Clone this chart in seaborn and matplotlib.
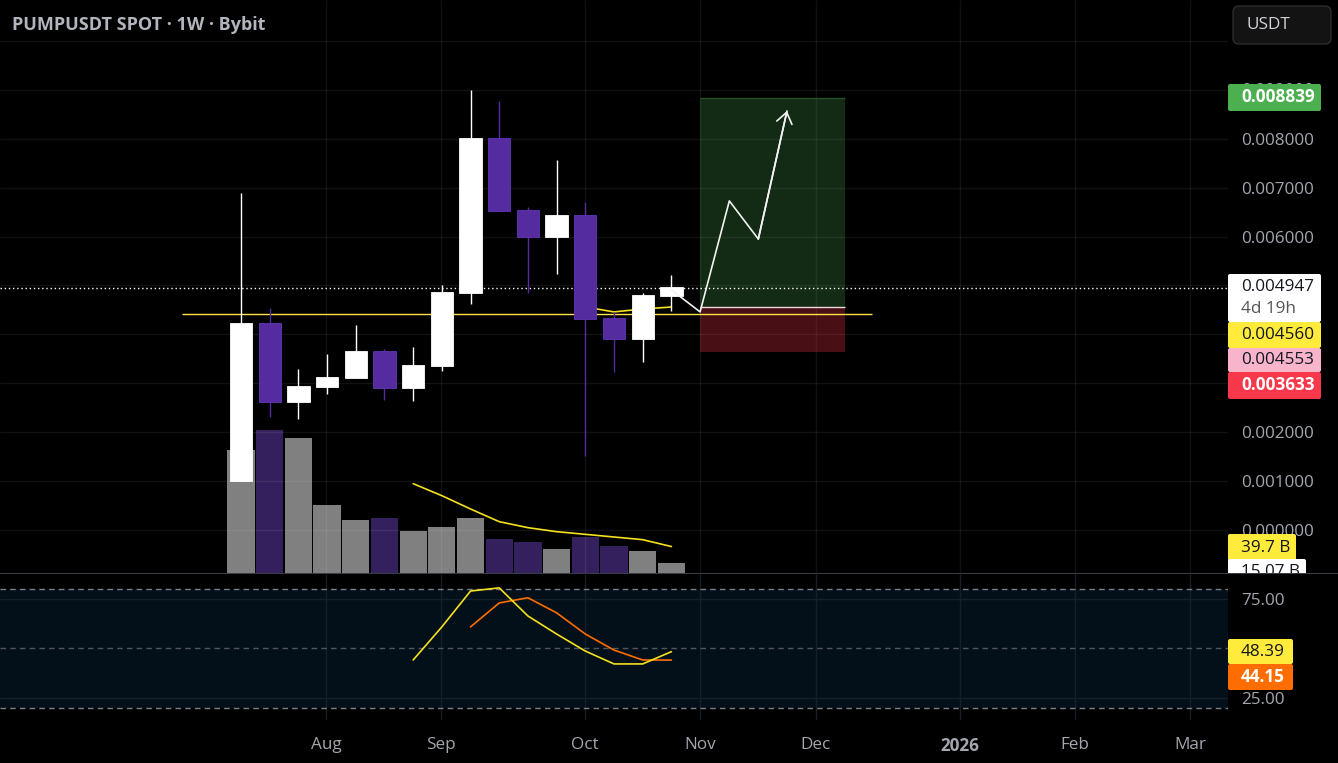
import matplotlib
matplotlib.use("Agg")
import matplotlib.pyplot as plt
from matplotlib.patches import FancyBboxPatch, Rectangle
from matplotlib.transforms import Affine2D
import pandas as pd
import seaborn as sns

# weekly candles
weeks = list(range(16))
opens = [.00100, .00423, .00262, .00292, .00311, .00366, .00290, .00335, .00485, .00802, .00654, .00599, .00644, .00434, .00391, .00479]
closes = [.00423, .00262, .00294, .00313, .00366, .00290, .00337, .00487, .00802, .00652, .00599, .00644, .00431, .00391, .00481, .00497]
highs = [.00689, .00454, .00329, .00360, .00419, .00370, .00374, .00501, .00900, .00877, .00661, .00757, .00671, .00446, .00485, .00521]
lows = [.00100, .00231, .00227, .00278, .00311, .00266, .00264, .00325, .00462, .00652, .00485, .00523, .00151, .00323, .00344, .00448]
volumes = [184, 214, 202, 102, 80, 83, 63, 69, 83, 51, 46, 36, 54, 40, 33, 15.07]

vol_ma_weeks = [6, 7, 8, 9, 10, 11, 12, 13, 14, 15]
vol_ma = [134, 116, 96, 77, 68, 62, 58, 54, 50, 39.7]

price_ma_weeks = [12, 13, 14, 15]
price_ma = [.00456, .00446, .00452, .00456]

rsi_weeks = [6, 7, 8, 9, 10, 11, 12, 13, 14, 15]
rsi = [44.2, 60.9, 79, 80.6, 66.4, 57.3, 48.7, 42.2, 42.2, 48.39]
rsi_ma_weeks = [8, 9, 10, 11, 12, 13, 14, 15]
rsi_ma = [60.9, 73, 75.6, 68, 57.3, 49.2, 44.2, 44.15]

# drawing on the chart
level_price = .004407
level_weeks = [-2.05, 22.0]
last_price = .004947
entry, target, stop = .004553, .008839, .003633
box_weeks = [16, 21.05]
path_weeks = [15, 16, 17.02, 18.03, 19.03]
path_prices = [.00491, .00446, .00673, .00595, .00857]

price_ticks = [.000, .001, .002, .003, .004, .005, .006, .007, .008, .009, .010]
price_labels = ["0.000000", "0.001000", "0.002000", "", "", "", "0.006000", "0.007000", "0.008000", "", ""]
time_ticks = [2.96, 6.97, 12.0, 16.0, 20.04, 25.06, 29.07, 33.08]
time_labels = ["Aug", "Sep", "Oct", "Nov", "Dec", "2026", "Feb", "Mar"]

sns.set_theme(style="dark", rc={"axes.facecolor": "black", "figure.facecolor": "black"})
plt.rcParams["font.family"] = ["Open Sans", "DejaVu Sans"]

W, H = 1338, 763
AXIS_TEXT = "#a3a6af"
PURPLE = "#552ba0"
FS = 12.3

fig = plt.figure(figsize=(W / 100, H / 100), dpi=100, facecolor="black")
px = Affine2D().scale(1 / W, -1 / H).translate(0, 1) + fig.transFigure

xlim = (-8.40, 34.40)
ax_vol = fig.add_axes([0, 1 - 573 / H, 1228 / W, 573 / H])
ax = fig.add_axes([0, 1 - 573 / H, 1228 / W, 573 / H], sharex=ax_vol)
ax_rsi = fig.add_axes([0, 1 - 720 / H, 1228 / W, 146 / H], sharex=ax_vol)
ax.patch.set_visible(False)

# volume, same pane as price
df = pd.DataFrame({"week": weeks, "volume": volumes, "open": opens, "close": closes, "high": highs, "low": lows})
df["dir"] = ["up" if c >= o else "down" for o, c in zip(opens, closes)]
sns.barplot(data=df, x="week", y="volume", hue="dir", palette={"up": "#808080", "down": "#34205c"},
            native_scale=True, dodge=False, width=0.95, saturation=1, legend=False, linewidth=0, ax=ax_vol)
sns.lineplot(x=vol_ma_weeks, y=vol_ma, color="#f5e11d", lw=1.2, ax=ax_vol)
ax_vol.set_ylim(0, 859.5)
ax_vol.set(xlabel="", ylabel="", yticks=[])

# price pane
ax.set_ylim(-.000879, .010838)
ax.set_yticks(price_ticks)
ax.set_yticklabels(price_labels)
ax.hlines(price_ticks, *xlim, color="white", alpha=0.07, lw=1, zorder=0)
ax.vlines(time_ticks, -.000879, .010838, color="white", alpha=0.07, lw=1, zorder=0)

ax.add_patch(Rectangle((box_weeks[0], entry), box_weeks[1] - box_weeks[0], target - entry,
                       color="#4caf50", alpha=0.25, lw=0, zorder=1))
ax.add_patch(Rectangle((box_weeks[0], stop), box_weeks[1] - box_weeks[0], entry - stop,
                       color="#f23645", alpha=0.3, lw=0, zorder=1))
ax.hlines(target, *box_weeks, color="#24502a", lw=1, zorder=1)
ax.hlines(last_price, *xlim, color="white", lw=1, ls=(0, (1, 2)), zorder=1.1)
ax.hlines(entry, *box_weeks, color="#f0d8dc", lw=1, zorder=1.2)
ax.hlines(level_price, *level_weeks, color="#ffe34d", lw=1, zorder=1.3)
sns.lineplot(x=price_ma_weeks, y=price_ma, color="#f5e11d", lw=1.2, ax=ax, zorder=1.4)

for d, c in [("up", "white"), ("down", PURPLE)]:
    sub = df[df["dir"] == d]
    ax.vlines(sub["week"], sub["low"], sub["high"], color=c, lw=1, zorder=2)
    ax.bar(sub["week"], (sub["close"] - sub["open"]).abs(), bottom=sub[["open", "close"]].min(axis=1),
           width=0.78, color=c, edgecolor="#6236b8" if d == "down" else "white", lw=0.6, zorder=3)

ax.plot(path_weeks, path_prices, color="#f2f2f2", lw=1.2, zorder=6)
ax.annotate("", xy=(path_weeks[-1], path_prices[-1]), xytext=(path_weeks[-2], path_prices[-2]),
            arrowprops=dict(arrowstyle="->,head_length=0.55,head_width=0.4", color="#f2f2f2", lw=1.2,
                            shrinkA=0, shrinkB=0, mutation_scale=14), zorder=6)

# rsi pane
ax_rsi.set_ylim(13.9, 87.6)
ax_rsi.axhspan(20, 80, color="#03101a", lw=0, zorder=0)
ax_rsi.hlines([75, 25], *xlim, color="#141f27", lw=1, zorder=1)
ax_rsi.vlines(time_ticks, 13.9, 87.6, color="#141f27", lw=1, zorder=1)
ax_rsi.hlines([80, 20], *xlim, color="#7a8086", lw=1, ls=(0, (4, 3)), zorder=1)
ax_rsi.hlines(50, *xlim, color="#50565c", lw=1, ls=(0, (4, 3)), zorder=1)
sns.lineplot(x=rsi_weeks, y=rsi, color="#f5e11d", lw=1.2, ax=ax_rsi, zorder=3)
sns.lineplot(x=rsi_ma_weeks, y=rsi_ma, color="#ff6d00", lw=1.2, ax=ax_rsi, zorder=2)
ax_rsi.set_yticks([25, 75])
ax_rsi.set_yticklabels(["25.00", "75.00"])

ax_vol.set_xlim(*xlim)
ax_rsi.set_xticks(time_ticks)
ax_rsi.set_xticklabels(time_labels)
ax.tick_params(axis="x", length=0, labelbottom=False)
ax_vol.tick_params(axis="x", length=0, labelbottom=False)
ax_rsi.tick_params(axis="x", length=0, colors=AXIS_TEXT, labelsize=FS, pad=12)
ax_rsi.get_xticklabels()[5].set_fontweight("bold")
for a in (ax, ax_rsi):
    a.yaxis.tick_right()
    a.tick_params(axis="y", length=0, colors=AXIS_TEXT, labelsize=FS, pad=9.4)
for a in (ax, ax_vol, ax_rsi):
    a.set(xlabel="", ylabel="")
    for s in a.spines.values():
        s.set_visible(False)
    a.grid(False)


def tag(x0, x1, y0, y1, color, text, fg, weight="normal"):
    fig.add_artist(FancyBboxPatch((x0, y0), x1 - x0, y1 - y0, boxstyle="round,pad=0,rounding_size=2",
                                  fc=color, ec="none", transform=px, zorder=10))
    fig.text(1241, (y0 + y1) / 2, text, color=fg, fontsize=FS, fontweight=weight, va="center",
             transform=px, zorder=11)


# value tags on the scales
fig.text(1241, 91, "0.009000", color=AXIS_TEXT, fontsize=FS, va="center", transform=px, zorder=2)
tag(1228, 1321, 84, 111, "#4caf50", "0.008839", "white", "bold")
tag(1228, 1321, 274, 322, "white", "", "black")
fig.text(1241, 287, "0.004947", color="#131722", fontsize=FS, va="center", transform=px, zorder=11)
fig.text(1241, 309, "4d 19h", color="#555555", fontsize=FS, va="center", transform=px, zorder=11)
tag(1228, 1321, 322, 348, "#ffeb3b", "0.004560", "#131722")
tag(1228, 1321, 348, 372, "#f8b4cb", "0.004553", "#131722")
tag(1228, 1321, 372, 399, "#f7374a", "0.003633", "white", "bold")
tag(1228, 1296, 534, 561, "#ffeb3b", "39.7 B", "#131722")
tag(1228, 1306, 559, 586, "white", "15.07 B", "#131722")
tag(1228, 1293, 639, 664, "#ffeb3b", "48.39", "#131722")
tag(1228, 1293, 664, 690, "#ff6d00", "44.15", "white", "bold")
# covers the part of the volume tag that runs past the pane edge
fig.add_artist(Rectangle((1228, 573), 110, 15, fc="black", ec="none", transform=px, zorder=12))
fig.add_artist(Rectangle((0, 573), W, 1, fc="#3a3d45", ec="none", transform=px, zorder=13))

# header
fig.text(12, 25, "PUMPUSDT SPOT · 1W · Bybit", color="#b2b5be", fontsize=13, fontweight="bold",
         va="center", transform=px)
fig.add_artist(FancyBboxPatch((1233, 6), 98, 38, boxstyle="round,pad=0,rounding_size=6",
                              fc="#131313", ec="#2c2c2c", lw=1, transform=px))
fig.text(1247, 25, "USDT", color="#d1d4dc", fontsize=FS, va="center", transform=px)

fig.savefig("out.png", dpi=100, facecolor="black")
